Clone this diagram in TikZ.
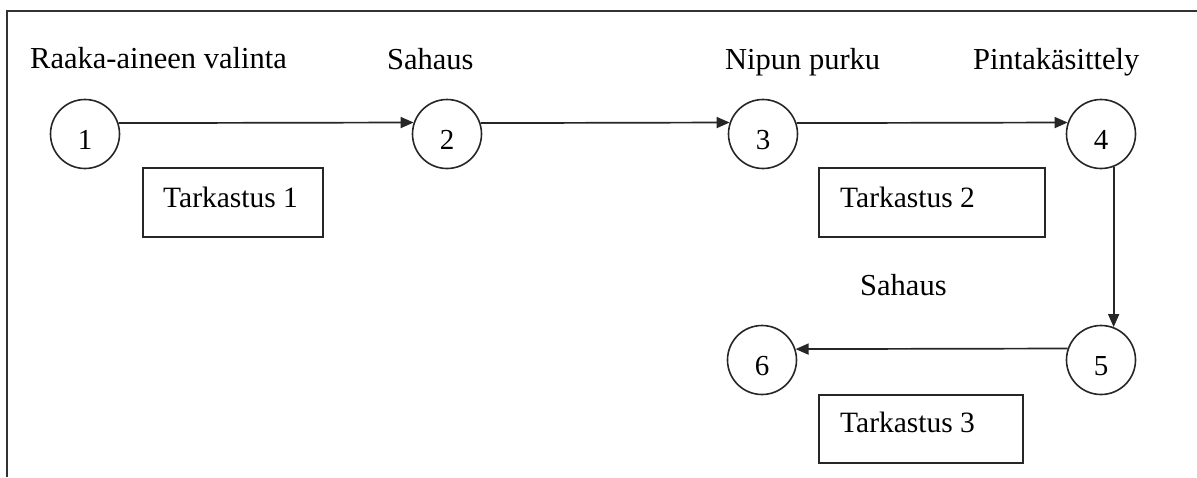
\documentclass[tikz,border=0pt]{standalone}
\usepackage{fontspec}
\setmainfont{Liberation Serif}
\usetikzlibrary{arrows.meta}
\tikzset{
  state/.style={circle, draw=black!85, line width=1.6pt, minimum size=69pt, inner sep=0pt, font=\fontsize{29}{34}\selectfont},
  checkbox/.style={draw=black!85, line width=1.6pt, inner sep=0pt},
  lbl/.style={anchor=base west, inner sep=0pt, font=\fontsize{30.5}{36}\selectfont},
  flow/.style={draw=black!85, line width=1.7pt, -{Triangle[length=13pt,width=11pt]}},
  frame/.style={draw=black!80, line width=2pt}
}
\newcommand{\dg}[1]{\raisebox{-15pt}[0pt][0pt]{#1}}
\begin{document}
\begin{tikzpicture}[x=1pt,y=-1pt]
\useasboundingbox (0,0) rectangle (1197,477);
\fill[white] (0,0) rectangle (1197,477);
\draw[frame] (7,477) -- (7,10.5) -- (1197,10.5);

\node[state] (n1) at (85,134) {\dg{1}};
\node[state] (n2) at (447,134) {\dg{2}};
\node[state] (n3) at (763,134) {\dg{3}};
\node[state] (n4) at (1101,134) {\dg{4}};
\node[state] (n5) at (1101,360) {\dg{5}};
\node[state] (n6) at (762,360) {\dg{6}};

\node[lbl] (l1) at (30,68) {Raaka-aineen valinta};
\node[lbl] (l2) at (387,69) {Sahaus};
\node[lbl] (l3) at (725,69) {Nipun purku};
\node[lbl] (l4) at (973,69) {Pintakäsittely};
\node[lbl] (l5) at (860,295) {Sahaus};

\node[checkbox, minimum width=180pt, minimum height=69pt] (b1) at (233,202.5) {};
\node[checkbox, minimum width=226pt, minimum height=69pt] (b2) at (932,202.5) {};
\node[checkbox, minimum width=204pt, minimum height=68pt] (b3) at (921,429) {};
\node[lbl, font=\fontsize{29.5}{35}\selectfont] (t1) at (163,207) {Tarkastus 1};
\node[lbl, font=\fontsize{29.5}{35}\selectfont] (t2) at (840,207) {Tarkastus 2};
\node[lbl, font=\fontsize{29.5}{35}\selectfont] (t3) at (840,432) {Tarkastus 3};

\draw[flow] (n1.18.6) -- (n2.161.4);
\draw[flow] (n2.18.6) -- (n3.161.4);
\draw[flow] (n3.18.6) -- (n4.161.4);
\draw[flow] (n4.-69.7) -- (n5.69.7);
\draw[flow] (n5.161.4) -- (n6.18.6);
\end{tikzpicture}
\end{document}
